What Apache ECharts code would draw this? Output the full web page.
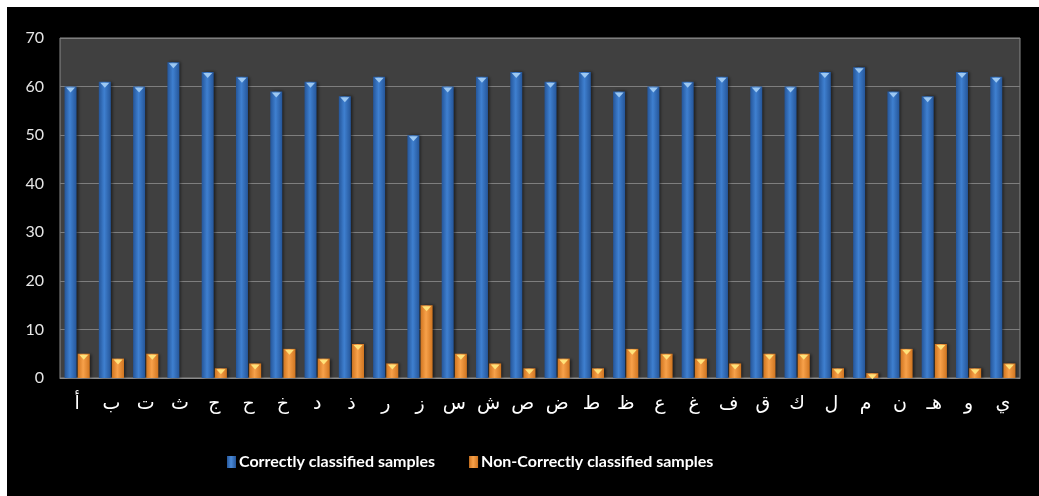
<!DOCTYPE html>
<html>
<head>
<meta charset="utf-8">
<script src="https://cdn.jsdelivr.net/npm/echarts@6/dist/echarts.min.js"></script>
<style>
  html, body { margin: 0; padding: 0; background: #ffffff; }
  #chart { position: absolute; left: 7px; top: 7px; width: 1032px; height: 489px; background: #000000; }
</style>
</head>
<body>
<div id="chart"></div>
<script>
// Arabic letters on the category axis
const letters = ['أ','ب','ت','ث','ج','ح','خ','د','ذ','ر','ز','س','ش','ص','ض','ط','ظ','ع','غ','ف','ق','ك','ل','م','ن','هـ','و','ي'];

// Samples per letter
const correct    = [60, 61, 60, 65, 63, 62, 59, 61, 58, 62, 50, 60, 62, 63, 61, 63, 59, 60, 61, 62, 60, 60, 63, 64, 59, 58, 63, 62];
const incorrect  = [ 5,  4,  5,  0,  2,  3,  6,  4,  7,  3, 15,  5,  3,  2,  4,  2,  6,  5,  4,  3,  5,  5,  2,  1,  6,  7,  2,  3];

const seriesNames = ['Correctly classified samples', 'Non-Correctly classified samples'];
const yTicks = { min: 0, max: 70, interval: 10 };

function hGrad(edge, mid) {
  return new echarts.graphic.LinearGradient(0, 0, 1, 0, [
    { offset: 0, color: edge },
    { offset: 0.45, color: mid },
    { offset: 1, color: edge }
  ]);
}

const blueFill = hGrad('#25569a', '#3f80d0');
const orangeFill = hGrad('#d07520', '#f7a14a');

const chart = echarts.init(document.getElementById('chart'));
const BW = 12;
const GAP = '10%';

chart.setOption({
  backgroundColor: '#000000',
  animation: false,
  grid: {
    left: 53, right: 19, top: 31, bottom: 118,
    show: true,
    backgroundColor: '#404040',
    borderColor: '#8a8a8a',
    borderWidth: 1
  },
  legend: {
    data: [
      { name: seriesNames[0], itemStyle: { color: hGrad('#25569a', '#4a8ad8') } },
      { name: seriesNames[1], itemStyle: { color: hGrad('#d07520', '#f7a14a') } }
    ],
    bottom: 21,
    left: 215,
    icon: 'rect',
    itemWidth: 9,
    itemHeight: 12,
    itemGap: 34,
    textStyle: { color: '#ffffff', fontFamily: 'Lato', fontWeight: 'bold', fontSize: 16, padding: [0, 0, 0, -2] }
  },
  xAxis: {
    type: 'category',
    data: letters,
    axisLine: { lineStyle: { color: '#8a8a8a', width: 1 } },
    axisTick: { show: false },
    axisLabel: { color: '#ffffff', fontFamily: 'DejaVu Sans', fontSize: 19, margin: 17 }
  },
  yAxis: {
    type: 'value',
    min: yTicks.min,
    max: yTicks.max,
    interval: yTicks.interval,
    axisLine: { show: false },
    axisTick: { show: false },
    splitLine: { lineStyle: { color: '#7e7e7e', width: 1 } },
    axisLabel: { color: '#e6e6e6', fontFamily: 'Lato', fontSize: 16, margin: 16 }
  },
  series: [
    {
      name: seriesNames[0],
      type: 'bar',
      data: correct,
      barWidth: BW,
      barGap: GAP,
      itemStyle: { color: blueFill, shadowColor: 'rgba(0,0,0,0.55)', shadowBlur: 3, shadowOffsetX: 2 }
    },
    {
      name: seriesNames[1],
      type: 'bar',
      data: incorrect,
      barWidth: BW,
      barGap: GAP,
      itemStyle: { color: orangeFill, shadowColor: 'rgba(0,0,0,0.55)', shadowBlur: 3, shadowOffsetX: 2 }
    },
    {
      name: 'capCorrect',
      type: 'pictorialBar',
      data: correct,
      barWidth: BW,
      barGap: GAP,
      symbol: 'triangle',
      symbolRotate: 180,
      symbolSize: [9, 5],
      symbolPosition: 'end',
      symbolOffset: [0, 1],
      z: 5,
      itemStyle: { color: '#9cc8f2' }
    },
    {
      name: 'capIncorrect',
      type: 'pictorialBar',
      data: incorrect.map(v => (v > 0 ? v : '-')),
      barWidth: BW,
      barGap: GAP,
      symbol: 'triangle',
      symbolRotate: 180,
      symbolSize: [9, 5],
      symbolPosition: 'end',
      symbolOffset: [0, 1],
      z: 5,
      itemStyle: { color: '#ffe27a' }
    }
  ]
});
</script>
</body>
</html>
